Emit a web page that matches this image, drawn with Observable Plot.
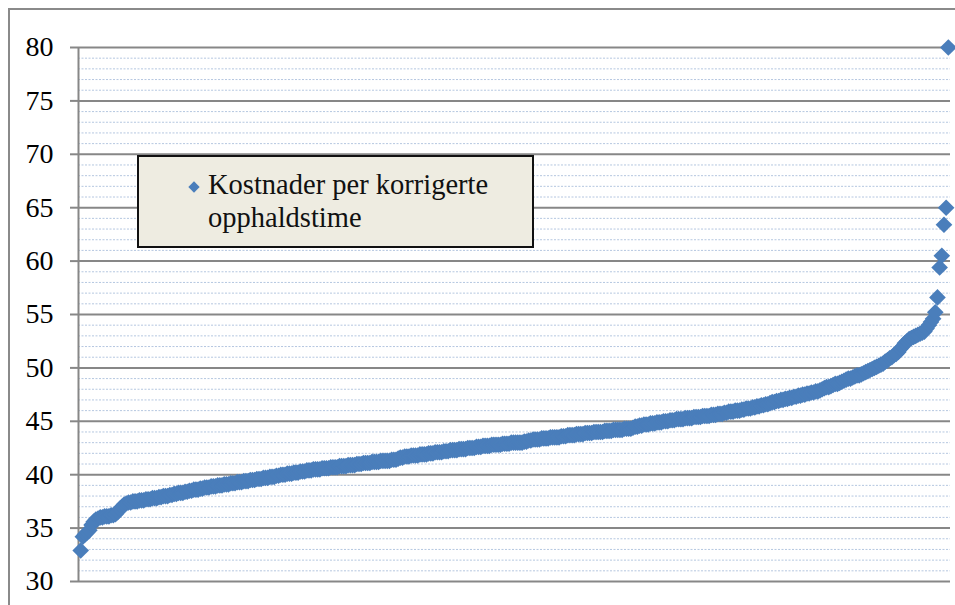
<!DOCTYPE html>
<html>
<head>
<meta charset="utf-8">
<script src="https://cdn.jsdelivr.net/npm/d3@7"></script>
<script src="https://cdn.jsdelivr.net/npm/@observablehq/plot@0.6"></script>
<style>
  html, body { margin: 0; padding: 0; background: #fff; overflow: hidden; }
  #wrap { position: relative; width: 955px; height: 605px; overflow: hidden; }
  #frame { position: absolute; left: 8px; top: 8px; width: 970px; height: 620px; border: 2px solid #8a8a8a; box-sizing: border-box; }
  #chart { position: absolute; left: 0; top: 0; }
  #legend { position: absolute; left: 137px; top: 155px; width: 397px; height: 93px; box-sizing: border-box;
            border: 2px solid #111; background: #eeece1; font-family: "Liberation Serif", serif; font-size: 28.5px;
            line-height: 33px; color: #111; }
  #legend .key { position: absolute; left: 51px; top: 26px; width: 8px; height: 8px; background: #4a7ebb; transform: rotate(45deg); }
  #legend .txt { position: absolute; left: 69px; top: 11px; }
</style>
</head>
<body>
<div id="wrap">
  <div id="frame"></div>
  <div id="chart"></div>
  <div id="legend"><div class="key"></div><div class="txt" id="legendText"></div></div>
</div>
<script>
const seriesName = ["Kostnader per korrigerte", "opphaldstime"];
const yTicksMajor = [30, 35, 40, 45, 50, 55, 60, 65, 70, 75, 80];
const yTicksMinor = d3.range(31, 80).filter(d => d % 5 !== 0);

// Costs per corrected hour, sorted ascending
const values = [
  32.9, 34.2, 34.4, 34.6, 34.8, 35.3, 35.6, 35.8, 35.9, 36.0, 36.0, 36.1, 36.1, 36.1, 36.2, 36.2, 36.3, 36.5, 36.8, 37.0,
  37.2, 37.3, 37.4, 37.4, 37.5, 37.5, 37.5, 37.6, 37.6, 37.6, 37.7, 37.7, 37.7, 37.8, 37.8, 37.8, 37.9, 37.9, 38.0, 38.0,
  38.0, 38.1, 38.1, 38.2, 38.2, 38.3, 38.3, 38.3, 38.4, 38.4, 38.5, 38.5, 38.6, 38.6, 38.6, 38.7, 38.7, 38.8, 38.8, 38.8,
  38.9, 38.9, 38.9, 39.0, 39.0, 39.0, 39.1, 39.1, 39.1, 39.2, 39.2, 39.2, 39.3, 39.3, 39.3, 39.4, 39.4, 39.4, 39.5, 39.5,
  39.5, 39.6, 39.6, 39.6, 39.7, 39.7, 39.7, 39.8, 39.8, 39.8, 39.9, 39.9, 40.0, 40.0, 40.0, 40.1, 40.1, 40.1, 40.2, 40.2,
  40.2, 40.3, 40.3, 40.3, 40.4, 40.4, 40.4, 40.5, 40.5, 40.5, 40.5, 40.6, 40.6, 40.6, 40.6, 40.7, 40.7, 40.7, 40.7, 40.8,
  40.8, 40.8, 40.8, 40.9, 40.9, 40.9, 40.9, 41.0, 41.0, 41.0, 41.1, 41.1, 41.1, 41.1, 41.2, 41.2, 41.2, 41.2, 41.3, 41.3,
  41.3, 41.3, 41.3, 41.4, 41.4, 41.4, 41.5, 41.6, 41.6, 41.7, 41.7, 41.7, 41.8, 41.8, 41.8, 41.8, 41.9, 41.9, 41.9, 41.9,
  42.0, 42.0, 42.0, 42.1, 42.1, 42.1, 42.1, 42.2, 42.2, 42.2, 42.3, 42.3, 42.3, 42.3, 42.4, 42.4, 42.4, 42.4, 42.5, 42.5,
  42.5, 42.5, 42.6, 42.6, 42.6, 42.7, 42.7, 42.7, 42.7, 42.8, 42.8, 42.8, 42.8, 42.8, 42.9, 42.9, 42.9, 42.9, 43.0, 43.0,
  43.0, 43.0, 43.0, 43.0, 43.1, 43.1, 43.2, 43.2, 43.3, 43.3, 43.3, 43.3, 43.4, 43.4, 43.4, 43.4, 43.5, 43.5, 43.5, 43.5,
  43.5, 43.6, 43.6, 43.6, 43.7, 43.7, 43.7, 43.7, 43.8, 43.8, 43.8, 43.8, 43.9, 43.9, 43.9, 43.9, 44.0, 44.0, 44.0, 44.0,
  44.0, 44.1, 44.1, 44.1, 44.1, 44.2, 44.2, 44.2, 44.2, 44.2, 44.3, 44.3, 44.3, 44.3, 44.4, 44.5, 44.5, 44.6, 44.6, 44.7,
  44.7, 44.7, 44.8, 44.8, 44.8, 44.9, 44.9, 44.9, 45.0, 45.0, 45.0, 45.1, 45.1, 45.1, 45.2, 45.2, 45.2, 45.2, 45.3, 45.3,
  45.3, 45.3, 45.4, 45.4, 45.4, 45.4, 45.5, 45.5, 45.5, 45.5, 45.6, 45.6, 45.6, 45.7, 45.7, 45.7, 45.8, 45.8, 45.9, 45.9,
  45.9, 46.0, 46.0, 46.0, 46.1, 46.1, 46.2, 46.2, 46.2, 46.3, 46.3, 46.4, 46.4, 46.5, 46.5, 46.6, 46.6, 46.7, 46.8, 46.8,
  46.9, 46.9, 47.0, 47.0, 47.1, 47.1, 47.2, 47.2, 47.3, 47.3, 47.4, 47.4, 47.5, 47.5, 47.6, 47.6, 47.7, 47.7, 47.8, 47.8,
  47.9, 48.0, 48.1, 48.2, 48.2, 48.3, 48.4, 48.5, 48.5, 48.6, 48.7, 48.8, 48.9, 49.0, 49.0, 49.1, 49.2, 49.3, 49.3, 49.4,
  49.5, 49.6, 49.7, 49.8, 49.9, 50.0, 50.1, 50.2, 50.3, 50.4, 50.6, 50.7, 50.9, 51.0, 51.2, 51.3, 51.5, 51.8, 52.0, 52.3,
  52.5, 52.7, 52.8, 52.9, 53.0, 53.1, 53.2, 53.3, 53.4, 53.7, 54.0, 54.3, 54.6, 55.2, 56.6, 59.4, 60.5, 63.4, 65.0, 80.0
];

const data = values.map((v, i) => ({i, v}));
document.getElementById("legendText").innerHTML = seriesName.join("<br>");

const chart = Plot.plot({
  width: 955,
  height: 605,
  marginLeft: 78,
  marginRight: 5,
  marginTop: 47,
  marginBottom: 24,
  style: {background: "transparent", fontFamily: "Liberation Serif, serif"},
  x: {domain: [-1, values.length], axis: null},
  y: {domain: [30, 80], axis: null},
  marks: [
    Plot.ruleY(yTicksMinor, {stroke: "#a8bddb", strokeWidth: 1, strokeDasharray: "2,1.5", strokeOpacity: 0.85}),
    Plot.ruleY(yTicksMajor, {stroke: "#878787", strokeWidth: 2}),
    Plot.axisY({ticks: yTicksMajor, tickSize: 8, tickPadding: 17, stroke: "#878787", strokeWidth: 2,
                color: "#000", fontSize: 28, fontFamily: "Liberation Serif, serif", label: null, tickFormat: d => String(d)}),
    Plot.ruleX([-1], {stroke: "#878787", strokeWidth: 2}),
    Plot.dot(data, {x: "i", y: "v", symbol: "diamond2", r: 7.5, fill: "#4a7ebb", stroke: "none"})
  ]
});
document.getElementById("chart").appendChild(chart);
</script>
</body>
</html>
